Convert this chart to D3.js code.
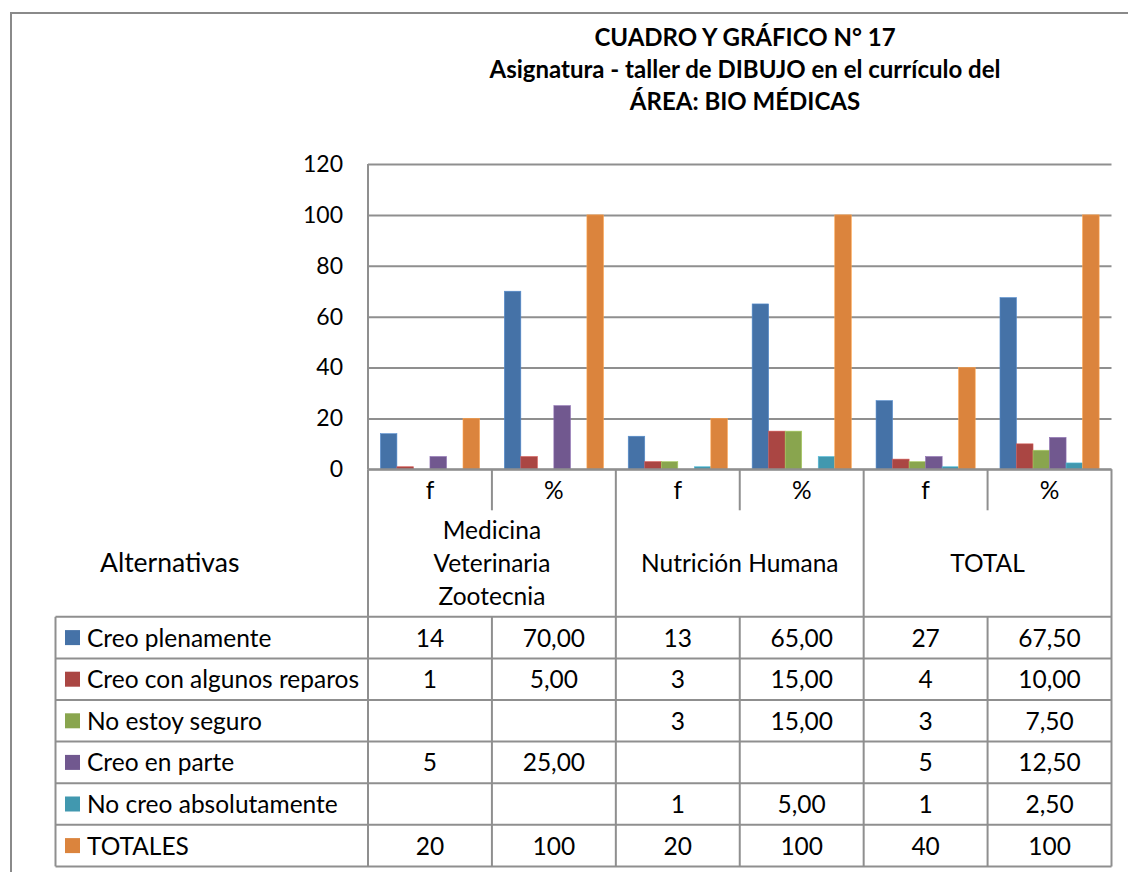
<!DOCTYPE html>
<html>
<head>
<meta charset="utf-8">
<script src="https://cdn.jsdelivr.net/npm/d3@7"></script>
<style>
  body { margin: 0; background: #fff; }
  svg { display: block; font-family: Lato, "Open Sans", sans-serif; }
</style>
</head>
<body>
<div id="chart"></div>
<script>
// data
const groups = ["Medicina Veterinaria Zootecnia", "Nutrición Humana", "TOTAL"];
const subCols = ["f", "%"];
const seriesNames = ["Creo plenamente", "Creo con algunos reparos", "No estoy seguro",
                     "Creo en parte", "No creo absolutamente", "TOTALES"];
// one value per column: MVZ f, MVZ %, NH f, NH %, TOTAL f, TOTAL %
const creoPlenamente   = [14, 70, 13, 65, 27, 67.5];
const creoAlgunos      = [1, 5, 3, 15, 4, 10];
const noEstoySeguro    = [null, null, 3, 15, 3, 7.5];
const creoEnParte      = [5, 25, null, null, 5, 12.5];
const noCreo           = [null, null, 1, 5, 1, 2.5];
const totales          = [20, 100, 20, 100, 40, 100];
const yTicks = [0, 20, 40, 60, 80, 100, 120];
const titleLines = ["CUADRO Y GRÁFICO N° 17",
                    "Asignatura - taller de DIBUJO en el currículo del",
                    "ÁREA: BIO MÉDICAS"];

const seriesValues = [creoPlenamente, creoAlgunos, noEstoySeguro, creoEnParte, noCreo, totales];
const colors = ["#4572A7", "#AA4643", "#89A54E", "#71588F", "#4198AF", "#DB843D"];

const W = 1128, H = 872;
const plot = { left: 368, right: 1111.5, top: 164, bottom: 469.3 };
const rowH = 41.6, tableTop = 616.8, tableLeft = 55.5;
const gridColor = "#8f8f8f";
const cellFont = "24.5px";

const cols = d3.range(6);

const svg = d3.select("#chart").append("svg")
    .attr("width", W)
    .attr("height", H);

// outer frame
svg.append("path")
    .attr("d", `M11,${H} V13 H${W}`)
    .attr("fill", "none")
    .attr("stroke", "#8a8a8a")
    .attr("stroke-width", 2);

// title
svg.append("text")
    .attr("text-anchor", "middle")
    .attr("font-weight", "bold")
    .attr("font-size", "24px")
    .attr("fill", "#000")
  .selectAll("tspan")
  .data(titleLines)
  .join("tspan")
    .attr("x", 745)
    .attr("y", (d, i) => 45.5 + i * 32)
    .text(d => d);

// scales
const x0 = d3.scaleBand()
    .domain(cols)
    .range([plot.left, plot.right]);
const x1 = d3.scaleBand()
    .domain(d3.range(seriesNames.length))
    .range([0, x0.bandwidth()])
    .paddingInner(0)
    .paddingOuter(0.75);
const y = d3.scaleLinear()
    .domain([0, 120])
    .range([plot.bottom, plot.top]);

// gridlines + y labels
const yAxis = d3.axisLeft(y).tickValues(yTicks).tickSize(-(plot.right - plot.left)).tickPadding(25);
svg.append("g")
    .attr("class", "y-axis")
    .attr("transform", `translate(${plot.left},0)`)
    .call(yAxis)
    .call(g => g.select(".domain").remove())
    .call(g => g.selectAll(".tick line")
        .attr("stroke", gridColor)
        .attr("stroke-width", 2))
    .call(g => g.selectAll(".tick text")
        .attr("font-size", "23px")
        .attr("font-family", "Lato, sans-serif")
        .attr("fill", "#000"));

// plot left axis line
svg.append("line")
    .attr("x1", plot.left).attr("x2", plot.left)
    .attr("y1", plot.top).attr("y2", plot.bottom)
    .attr("stroke", gridColor).attr("stroke-width", 2);

// bars
const barData = [];
seriesValues.forEach((vals, s) => vals.forEach((v, c) => {
    if (v != null) barData.push({ s, c, v });
}));
svg.append("g")
  .selectAll("rect")
  .data(barData)
  .join("rect")
    .attr("x", d => x0(d.c) + x1(d.s))
    .attr("y", d => y(d.v))
    .attr("width", x1.bandwidth())
    .attr("height", d => y(0) - y(d.v))
    .attr("fill", d => colors[d.s])
    .attr("stroke", d => d3.color(colors[d.s]).brighter(0.6))
    .attr("stroke-width", 0.6);

// ---- data table ----
const tableBottom = tableTop + rowH * seriesNames.length;
const lines = svg.append("g")
    .attr("stroke", gridColor)
    .attr("stroke-width", 2);

// x axis line
lines.append("line")
    .attr("x1", plot.left).attr("x2", plot.right)
    .attr("y1", plot.bottom).attr("y2", plot.bottom);

// horizontal row lines
d3.range(seriesNames.length + 1).forEach(i => {
    lines.append("line")
        .attr("x1", tableLeft).attr("x2", plot.right)
        .attr("y1", tableTop + i * rowH).attr("y2", tableTop + i * rowH);
});
// table left border
lines.append("line")
    .attr("x1", tableLeft).attr("x2", tableLeft)
    .attr("y1", tableTop).attr("y2", tableBottom);

// group boundaries (full height)
[0, 2, 4].forEach(c => {
    lines.append("line")
        .attr("x1", x0(c)).attr("x2", x0(c))
        .attr("y1", plot.bottom).attr("y2", tableBottom);
});
lines.append("line")
    .attr("x1", plot.right).attr("x2", plot.right)
    .attr("y1", plot.bottom).attr("y2", tableBottom);

// f / % dividers
[1, 3, 5].forEach(c => {
    lines.append("line")
        .attr("x1", x0(c)).attr("x2", x0(c))
        .attr("y1", plot.bottom).attr("y2", plot.bottom + 41);
    lines.append("line")
        .attr("x1", x0(c)).attr("x2", x0(c))
        .attr("y1", tableTop).attr("y2", tableBottom);
});

const txt = svg.append("g")
    .attr("font-size", cellFont)
    .attr("fill", "#000");

// f / % labels
txt.selectAll(".sub")
  .data(cols)
  .join("text")
    .attr("class", "sub")
    .attr("text-anchor", "middle")
    .attr("x", c => x0(c) + x0.bandwidth() / 2)
    .attr("y", plot.bottom + 30)
    .text(c => subCols[c % 2]);

// group labels
const groupLines = [["Medicina", "Veterinaria", "Zootecnia"], ["Nutrición Humana"], ["TOTAL"]];
groupLines.forEach((gl, g) => {
    const cx = x0(g * 2 + 1);
    txt.append("text")
        .attr("text-anchor", "middle")
      .selectAll("tspan")
      .data(gl)
      .join("tspan")
        .attr("x", cx)
        .attr("y", (d, i) => 572 + (i - (gl.length - 1) / 2) * 33)
        .text(d => d);
});

txt.append("text")
    .attr("x", 100)
    .attr("y", 572)
    .attr("font-size", "26.5px")
    .text("Alternativas");

// rows
const fmt = (v, c) => v == null ? "" : (c % 2 === 0 || v === 100 ? String(v) : v.toFixed(2).replace(".", ","));
seriesNames.forEach((name, s) => {
    const cy = tableTop + s * rowH + rowH / 2;
    svg.append("rect")
        .attr("x", 65).attr("y", cy - 7.5)
        .attr("width", 15).attr("height", 15)
        .attr("fill", colors[s]);
    txt.append("text")
        .attr("x", 87)
        .attr("y", cy + 9)
        .text(name);
    seriesValues[s].forEach((v, c) => {
        txt.append("text")
            .attr("text-anchor", "middle")
            .attr("x", x0(c) + x0.bandwidth() / 2)
            .attr("y", cy + 9)
            .text(fmt(v, c));
    });
});
</script>
</body>
</html>
